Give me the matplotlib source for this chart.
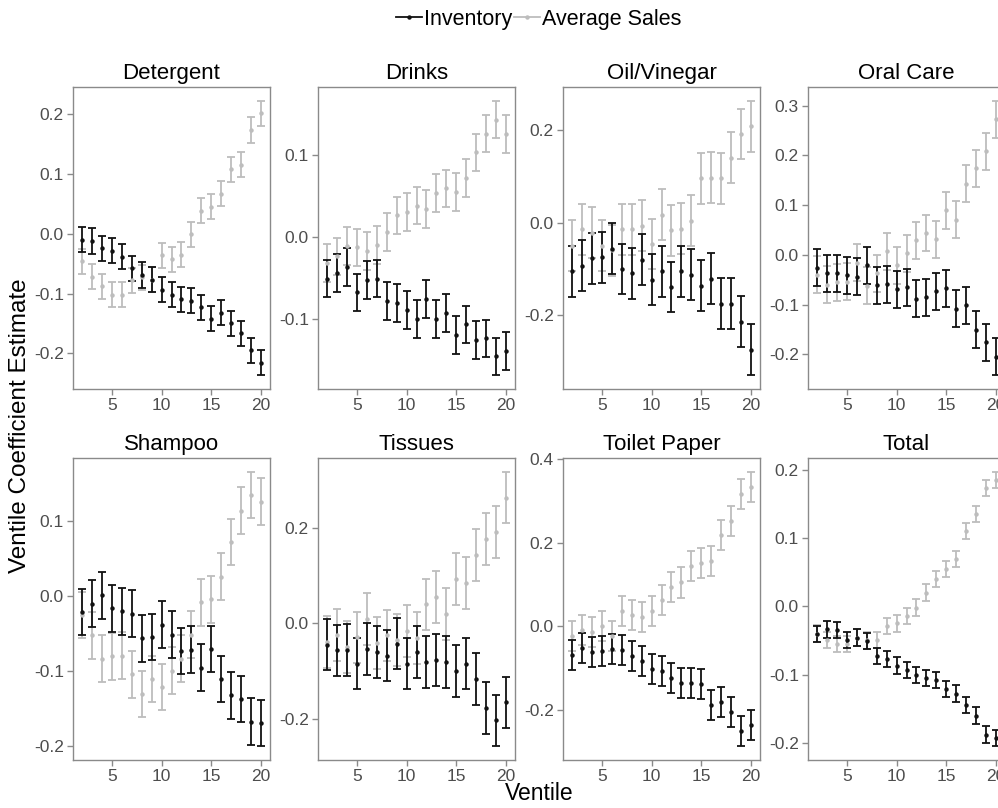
import matplotlib
matplotlib.use("Agg")
import matplotlib.pyplot as plt
from matplotlib.lines import Line2D
from matplotlib.ticker import MultipleLocator, FormatStrFormatter

plt.rcParams['font.family'] = ['Liberation Sans', 'DejaVu Sans']
plt.rcParams['axes.unicode_minus'] = False

ventiles = list(range(2, 21))

categories = ['Detergent', 'Drinks', 'Oil/Vinegar', 'Oral Care',
              'Shampoo', 'Tissues', 'Toilet Paper', 'Total']

# inventory coefficient estimates (black)
inv_detergent = [-0.010, -0.012, -0.024, -0.028, -0.038, -0.058, -0.069, -0.077, -0.094, -0.102,
                 -0.110, -0.112, -0.123, -0.142, -0.132, -0.150, -0.167, -0.195, -0.216]
inv_drinks = [-0.051, -0.044, -0.037, -0.068, -0.053, -0.051, -0.078, -0.081, -0.089, -0.100,
              -0.076, -0.100, -0.093, -0.120, -0.107, -0.126, -0.124, -0.146, -0.139]
inv_oil = [-0.105, -0.093, -0.077, -0.075, -0.056, -0.100, -0.109, -0.080, -0.123, -0.105,
           -0.139, -0.105, -0.112, -0.136, -0.121, -0.175, -0.175, -0.214, -0.275]
inv_oral = [-0.026, -0.037, -0.037, -0.041, -0.044, -0.021, -0.061, -0.059, -0.069, -0.065,
            -0.088, -0.085, -0.073, -0.067, -0.108, -0.101, -0.150, -0.176, -0.205]
inv_shampoo = [-0.021, -0.010, 0.001, -0.016, -0.020, -0.023, -0.056, -0.054, -0.038, -0.051,
               -0.073, -0.071, -0.095, -0.070, -0.110, -0.132, -0.137, -0.167, -0.169]
inv_tissues = [-0.045, -0.057, -0.056, -0.085, -0.054, -0.060, -0.068, -0.043, -0.085, -0.060,
               -0.082, -0.077, -0.081, -0.100, -0.085, -0.117, -0.178, -0.204, -0.166]
inv_toilet = [-0.068, -0.052, -0.062, -0.058, -0.054, -0.057, -0.072, -0.084, -0.102, -0.106,
              -0.124, -0.135, -0.135, -0.138, -0.188, -0.182, -0.204, -0.251, -0.237]
inv_total = [-0.041, -0.034, -0.035, -0.049, -0.046, -0.051, -0.073, -0.077, -0.087, -0.093,
             -0.101, -0.105, -0.108, -0.121, -0.128, -0.145, -0.160, -0.188, -0.193]

# average sales coefficient estimates (grey)
sales_detergent = [-0.046, -0.072, -0.088, -0.102, -0.102, -0.078, -0.073, -0.077, -0.036, -0.043,
                   -0.035, -0.001, 0.039, 0.045, 0.067, 0.108, 0.116, 0.174, 0.202]
sales_drinks = [-0.032, -0.024, -0.011, -0.013, -0.017, -0.010, 0.006, 0.026, 0.030, 0.038,
                0.034, 0.053, 0.059, 0.055, 0.072, 0.103, 0.126, 0.143, 0.125]
sales_oil = [-0.050, -0.014, -0.022, -0.050, -0.060, -0.014, -0.014, -0.006, -0.046, 0.017,
             -0.016, -0.013, 0.004, 0.096, 0.097, 0.096, 0.141, 0.192, 0.209]
sales_oral = [-0.040, -0.060, -0.055, -0.054, -0.016, -0.062, -0.037, 0.007, -0.021, 0.003,
              0.029, 0.044, 0.031, 0.090, 0.071, 0.143, 0.174, 0.208, 0.273]
sales_shampoo = [-0.025, -0.052, -0.083, -0.080, -0.079, -0.104, -0.130, -0.110, -0.121, -0.099,
                 -0.083, -0.051, -0.008, -0.004, 0.026, 0.072, 0.114, 0.135, 0.126]
sales_tissues = [-0.040, -0.025, -0.050, -0.030, 0.008, -0.042, -0.026, -0.036, -0.016, -0.031,
                 0.039, 0.055, 0.019, 0.092, 0.084, 0.143, 0.176, 0.191, 0.263]
sales_toilet = [-0.023, -0.008, -0.014, 0.001, -0.024, 0.036, 0.027, 0.022, 0.037, 0.062,
                0.094, 0.105, 0.145, 0.152, 0.157, 0.219, 0.252, 0.317, 0.334]
sales_total = [-0.040, -0.049, -0.055, -0.055, -0.046, -0.050, -0.049, -0.029, -0.025, -0.014,
               -0.002, 0.020, 0.040, 0.055, 0.069, 0.110, 0.135, 0.173, 0.185]

# half-width of the confidence bars, one per panel
inv_err = [0.021, 0.023, 0.055, 0.037, 0.031, 0.054, 0.036, 0.012]
sales_err = [0.021, 0.023, 0.055, 0.037, 0.031, 0.054, 0.036, 0.012]

y_steps = [0.1, 0.1, 0.2, 0.1, 0.1, 0.2, 0.2, 0.1]

inventory = [inv_detergent, inv_drinks, inv_oil, inv_oral,
             inv_shampoo, inv_tissues, inv_toilet, inv_total]
sales = [sales_detergent, sales_drinks, sales_oil, sales_oral,
         sales_shampoo, sales_tissues, sales_toilet, sales_total]

W, H = 998, 808
fig = plt.figure(figsize=(W / 100, H / 100), dpi=100)

col_left = [73, 318, 563, 808]
row_top = [87, 458]
pw, ph = 197, 302

border = '#8a8a8a'
black = '#111111'
grey = '#bdbdbd'

for i, name in enumerate(categories):
    r, c = divmod(i, 4)
    ax = fig.add_axes([col_left[c] / W, 1 - (row_top[r] + ph) / H, pw / W, ph / H])

    ax.errorbar(ventiles, sales[i], yerr=sales_err[i], fmt='o', color=grey,
                ecolor=grey, markersize=2.2, elinewidth=1.3, capsize=3.2, capthick=1.3)
    ax.errorbar(ventiles, inventory[i], yerr=inv_err[i], fmt='o', color=black,
                ecolor=black, markersize=2.2, elinewidth=1.3, capsize=3.2, capthick=1.3)

    # ggplot-like 5% expansion around the error bars
    lo = min(min(inventory[i]) - inv_err[i], min(sales[i]) - sales_err[i])
    hi = max(max(inventory[i]) + inv_err[i], max(sales[i]) + sales_err[i])
    pad = (hi - lo) * 0.05
    ax.set_ylim(lo - pad, hi + pad)
    ax.set_xlim(2 - 0.9, 20 + 0.9)

    ax.xaxis.set_major_locator(MultipleLocator(5))
    ax.yaxis.set_major_locator(MultipleLocator(y_steps[i]))
    ax.yaxis.set_major_formatter(FormatStrFormatter('%.1f'))

    for s in ax.spines.values():
        s.set_color(border)
        s.set_linewidth(1.0)
    ax.tick_params(colors=border, labelcolor='#4d4d4d', labelsize=12.5,
                   length=4, width=1.0, pad=2.5)
    ax.set_title(name, fontsize=16, pad=6)

handles = [Line2D([], [], color=black, marker='o', markersize=2.2, lw=1.3),
           Line2D([], [], color=grey, marker='o', markersize=2.2, lw=1.3)]
fig.legend(handles, ['Inventory', 'Average Sales'], loc='center',
           bbox_to_anchor=(0.54, 1 - 19 / H), ncol=2, frameon=False,
           fontsize=15.5, handlelength=1.2, handletextpad=0.1, columnspacing=0.1)

fig.text(539 / W, 1 - 793 / H, 'Ventile', ha='center', va='center', fontsize=16.5)
fig.text(20 / W, 1 - 426 / H, 'Ventile Coefficient Estimate', ha='center', va='center',
         rotation=90, fontsize=17.5)

fig.savefig('out.png', dpi=100)
